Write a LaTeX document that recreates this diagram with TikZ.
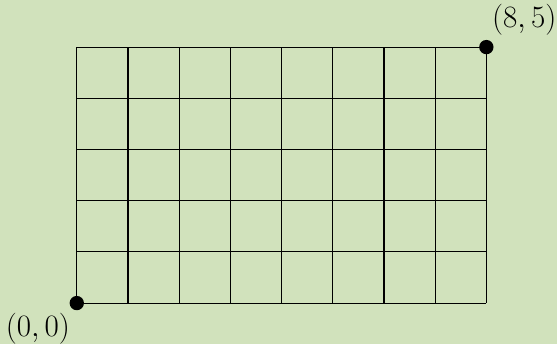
\documentclass[tikz,border=0pt]{standalone}
\definecolor{bgc}{RGB}{209,226,188}
\begin{document}
\begin{tikzpicture}[
  dot/.style={circle,fill=black,inner sep=0pt,minimum size=0.28cm},
  lbl/.style={font=\fontsize{16}{19}\selectfont,inner sep=0pt}]
\fill[bgc] (-1.5,-0.8) rectangle (9.38,5.92);
\useasboundingbox (-1.5,-0.8) rectangle (9.38,5.92);
\draw[line width=0.6pt] (0,0) grid (8,5);
\node[dot] (o) at (0,0) {};
\node[dot] (e) at (8,5) {};
\node[lbl] (ol) at (-0.76,-0.5) {$(0,0)$};
\node[lbl] (el) at (8.74,5.54) {$(8,5)$};
\end{tikzpicture}
\end{document}
